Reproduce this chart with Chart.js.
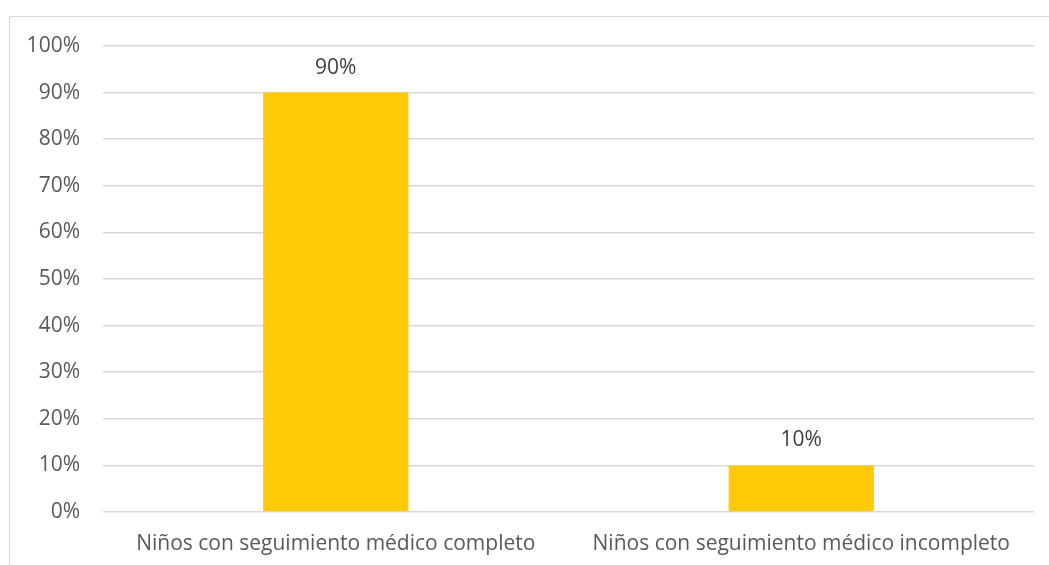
<!DOCTYPE html>
<html>
<head>
<meta charset="utf-8">
<script src="https://cdn.jsdelivr.net/npm/chart.js@4.4.0/dist/chart.umd.min.js"></script>
<style>
  html, body { margin: 0; padding: 0; background: #fff; }
  #wrap { position: relative; width: 1049px; height: 565px; overflow: hidden; }
  #frame { position: absolute; left: 9px; top: 16px; width: 1100px; height: 600px; border: 1.5px solid #d9d9d9; box-sizing: border-box; }
  canvas { position: absolute; left: 0; top: 0; }
</style>
</head>
<body>
<div id="wrap">
  <div id="frame"></div>
  <canvas id="c" width="1049" height="565"></canvas>
</div>
<script>
const categories = ["Niños con seguimiento médico completo", "Niños con seguimiento médico incompleto"];
const values = [90, 10];
const valueLabels = ["90%", "10%"];

const FONT = "'Open Sans', sans-serif";
const TEXT = "#595959";

const labelPlugin = {
  id: 'valLabels',
  afterDatasetsDraw(chart) {
    const ctx = chart.ctx;
    const meta = chart.getDatasetMeta(0);
    ctx.save();
    ctx.font = "21px " + FONT;
    ctx.fillStyle = "#404040";
    ctx.textAlign = "center";
    ctx.textBaseline = "middle";
    meta.data.forEach((bar, i) => {
      ctx.fillText(valueLabels[i], bar.x, bar.y - 25);
    });
    ctx.restore();
  }
};

new Chart(document.getElementById('c'), {
  type: 'bar',
  data: {
    labels: categories,
    datasets: [{
      data: values,
      backgroundColor: '#FFC906',
      borderWidth: 0,
      categoryPercentage: 1,
      barPercentage: 0.312
    }]
  },
  options: {
    responsive: false,
    animation: false,
    devicePixelRatio: 1,
    layout: { padding: { top: 46, right: 15, left: 0, bottom: 0 } },
    plugins: { legend: { display: false }, tooltip: { enabled: false } },
    scales: {
      x: {
        grid: { display: false, drawTicks: false },
        border: { display: false },
        ticks: { color: TEXT, font: { family: FONT, size: 21 }, padding: 19, maxRotation: 0, autoSkip: false },
        afterFit(s) { s.height = 53; }
      },
      y: {
        min: 0, max: 100,
        grid: { color: '#d9d9d9', lineWidth: 1.5, drawTicks: false },
        border: { display: false },
        ticks: { stepSize: 10, color: TEXT, font: { family: FONT, size: 21 }, padding: 23, callback: v => v + '%' },
        afterFit(s) { s.width = 103; }
      }
    }
  },
  plugins: [labelPlugin]
});
</script>
</body>
</html>
